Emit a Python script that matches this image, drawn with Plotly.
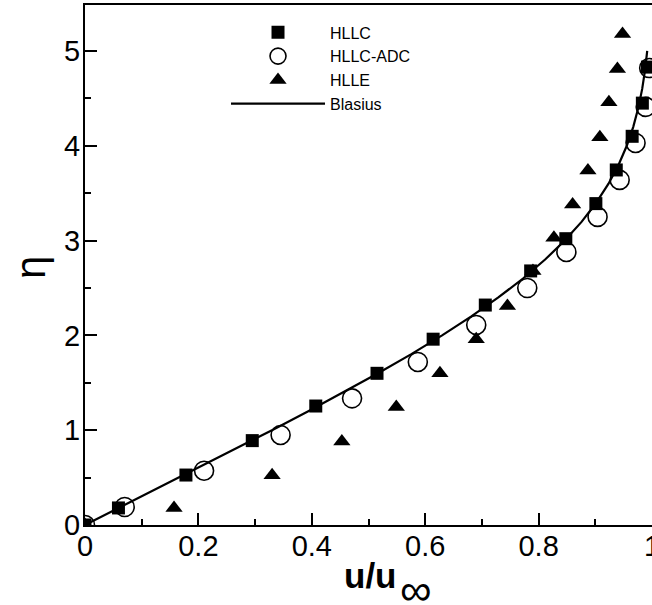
import plotly.graph_objects as go

# HLLC (filled squares)
hllc_u = [0.0, 0.059, 0.178, 0.295, 0.407, 0.515, 0.614, 0.706, 0.786, 0.848, 0.901, 0.937, 0.965, 0.983, 0.992]
hllc_eta = [0.0, 0.18, 0.527, 0.89, 1.255, 1.60, 1.96, 2.32, 2.68, 3.02, 3.39, 3.745, 4.10, 4.45, 4.83]

# HLLC-ADC (open circles)
adc_u = [0.0, 0.070, 0.210, 0.345, 0.471, 0.587, 0.690, 0.780, 0.849, 0.904, 0.943, 0.971, 0.989, 0.995]
adc_eta = [0.0, 0.19, 0.573, 0.95, 1.336, 1.72, 2.11, 2.50, 2.88, 3.25, 3.64, 4.03, 4.41, 4.82]

# HLLE (filled triangles)
hlle_u = [0.0, 0.157, 0.330, 0.453, 0.549, 0.626, 0.690, 0.745, 0.790, 0.827, 0.860, 0.887, 0.908, 0.924, 0.939, 0.948]
hlle_eta = [0.0, 0.18, 0.525, 0.88, 1.245, 1.60, 1.96, 2.31, 2.68, 3.03, 3.38, 3.74, 4.09, 4.46, 4.81, 5.18]

# Blasius solution f'(eta), tabulated
blasius_eta = [0.0, 0.2, 0.4, 0.6, 0.8, 1.0, 1.2, 1.4, 1.6, 1.8, 2.0, 2.2, 2.4, 2.6, 2.8, 3.0,
               3.2, 3.4, 3.6, 3.8, 4.0, 4.2, 4.4, 4.6, 4.8, 5.0]
blasius_u = [0.0, 0.06641, 0.13277, 0.19894, 0.26471, 0.32979, 0.39378, 0.45627, 0.51676,
             0.57477, 0.62977, 0.68132, 0.72899, 0.77246, 0.81152, 0.84605, 0.87609, 0.90177,
             0.92333, 0.94112, 0.95552, 0.96696, 0.97587, 0.98269, 0.98779, 0.99155]

x_ticks = [0, 0.2, 0.4, 0.6, 0.8, 1]
x_labels = ["0", "0.2", "0.4", "0.6", "0.8", "1"]
y_ticks = [0, 1, 2, 3, 4, 5]

FONT = "Liberation Sans, Arial, Helvetica, sans-serif"

fig = go.Figure()

fig.add_trace(go.Scatter(
    x=adc_u, y=adc_eta, mode="markers", name="HLLC-ADC", legendrank=2,
    marker=dict(symbol="circle-open", size=19, color="black", line=dict(width=1.6, color="black")),
))
fig.add_trace(go.Scatter(
    x=hlle_u, y=hlle_eta, mode="markers", name="HLLE", legendrank=3,
    marker=dict(symbol="triangle-up", size=15, color="black"),
))
fig.add_trace(go.Scatter(
    x=blasius_u, y=blasius_eta, mode="lines", name="Blasius", legendrank=4,
    line=dict(color="black", width=2.2),
))
fig.add_trace(go.Scatter(
    x=hllc_u, y=hllc_eta, mode="markers", name="HLLC", legendrank=1,
    marker=dict(symbol="square", size=13, color="black"),
))

fig.update_layout(
    width=652, height=605,
    margin=dict(l=85, r=0, t=5, b=80),
    plot_bgcolor="white", paper_bgcolor="white",
    font=dict(family=FONT, color="black"),
    legend=dict(
        x=0.2487, y=0.98, xanchor="left", yanchor="top",
        bgcolor="rgba(0,0,0,0)", font=dict(size=16, family=FONT),
        itemwidth=94, tracegroupgap=0,
    ),
    xaxis=dict(
        range=[0, 1], tickvals=x_ticks, ticktext=x_labels, automargin=False,
        ticks="inside", ticklen=12, tickwidth=2, tickcolor="black",
        minor=dict(dtick=0.1, ticks="inside", ticklen=6, tickwidth=1.5, tickcolor="black"),
        showline=True, linewidth=2, linecolor="black", mirror=True,
        showgrid=False, zeroline=False, ticklabelstandoff=-6,
        ticklabeloverflow="allow",
        tickfont=dict(size=29, family=FONT),
    ),
    yaxis=dict(
        range=[0, 5.485], tickvals=y_ticks, automargin=False,
        ticks="inside", ticklen=12, tickwidth=2, tickcolor="black",
        minor=dict(dtick=0.5, ticks="inside", ticklen=6, tickwidth=1.5, tickcolor="black"),
        showline=True, linewidth=2, linecolor="black",
        showgrid=False, zeroline=False, ticklabelstandoff=-3,
        tickfont=dict(size=29, family=FONT),
    ),
)

# axis titles
fig.add_annotation(
    text="η", xref="paper", yref="paper", textangle=-90,
    x=(30 - 85) / 567, y=(525 - 268) / 520, xanchor="center", yanchor="middle",
    showarrow=False, font=dict(size=42, family=FONT, color="black"),
)
fig.add_annotation(
    text="<b>u/u</b>", xref="paper", yref="paper",
    x=(370 - 85) / 567, y=(525 - 575) / 520, xanchor="center", yanchor="middle",
    showarrow=False, font=dict(size=35, family=FONT, color="black"),
)
fig.add_annotation(
    text="∞", xref="paper", yref="paper",
    x=(415 - 85) / 567, y=(525 - 589) / 520, xanchor="center", yanchor="middle",
    showarrow=False, font=dict(size=44, family=FONT, color="black"),
)

# page has a default body margin; drop it so the figure sits at the window corner
fig.write_html(
    "out.html",
    config={"displayModeBar": False},
    post_script="document.body.style.margin='0';document.body.style.overflow='hidden';",
)
